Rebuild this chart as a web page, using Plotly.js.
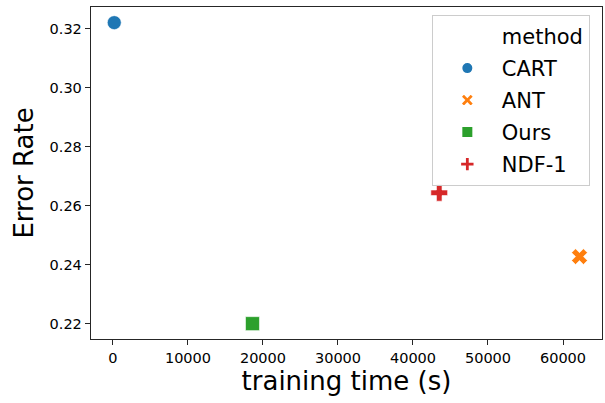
<!DOCTYPE html>
<html><head><meta charset="utf-8">
<script src="https://cdn.plot.ly/plotly-3.0.1.min.js"></script>
<style>html,body{margin:0;padding:0;background:#fff}#chart{width:605px;height:403px}</style>
</head><body><div id="chart"></div>
<script>
const methods = ["CART", "ANT", "Ours", "NDF-1"];
const trainingTime = [170, 62200, 18600, 43500];
const errorRate = [0.3220, 0.2428, 0.2201, 0.2644];
const colors = ["#1f77b4", "#ff7f0e", "#2ca02c", "#d62728"];
const symbols = ["circle", "x", "square", "cross"];
const xTicks = [0, 10000, 20000, 30000, 40000, 50000, 60000];
const yTicks = [0.22, 0.24, 0.26, 0.28, 0.30, 0.32];

const traces = [{
  x: [null], y: [null], type: "scatter", mode: "markers", name: "method",
  legendgroup: "g0", marker: {color: "rgba(0,0,0,0)", size: 1}, hoverinfo: "skip"
}];
methods.forEach((m, i) => {
  traces.push({
    x: [trainingTime[i]], y: [errorRate[i]], type: "scatter", mode: "markers",
    name: m, legendgroup: "g" + (i + 1),
    marker: {color: colors[i], symbol: symbols[i], size: 14, line: {color: "#fff", width: 0.6}}
  });
});

const layout = {
  width: 605, height: 403,
  margin: {l: 91, r: 3, t: 7, b: 64},
  paper_bgcolor: "#fff", plot_bgcolor: "#fff",
  font: {family: "DejaVu Sans", color: "#000"},
  showlegend: true,
  legend: {
    x: 0.667, y: 0.976, xanchor: "left", yanchor: "top",
    bordercolor: "#cccccc", borderwidth: 1, bgcolor: "rgba(255,255,255,0.8)",
    font: {size: 21, color: "#000"}, tracegroupgap: 1.7, itemwidth: 59, itemsizing: "constant"
  },
  xaxis: {
    range: [-2930, 65200], tickvals: xTicks, ticktext: xTicks.map(String),
    showgrid: false, zeroline: false, showline: true, mirror: true,
    linecolor: "#262626", linewidth: 1.25, ticks: "outside", ticklen: 5, tickwidth: 1, tickcolor: "#262626",
    tickfont: {size: 14.5, color: "#000"},
    title: {text: "training time (s)", font: {size: 26, color: "#000"}, standoff: 6}
  },
  yaxis: {
    range: [0.2149, 0.3273], tickvals: yTicks, ticktext: yTicks.map(v => v.toFixed(2)),
    showgrid: false, zeroline: false, showline: true, mirror: true,
    linecolor: "#262626", linewidth: 1.25, ticks: "outside", ticklen: 5, tickwidth: 1, tickcolor: "#262626",
    tickfont: {size: 14.5, color: "#000"},
    title: {text: "Error Rate", font: {size: 26, color: "#000"}, standoff: 8}
  }
};
Plotly.newPlot("chart", traces, layout, {displayModeBar: false, staticPlot: true});
</script></body></html>
